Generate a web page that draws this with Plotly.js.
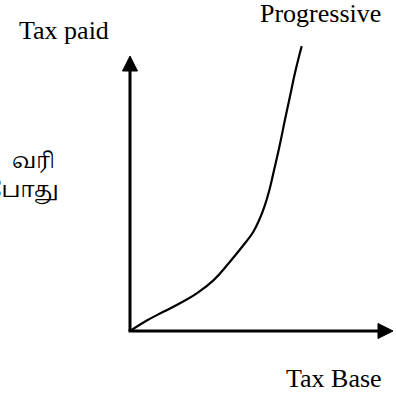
<!DOCTYPE html>
<html>
<head>
<meta charset="utf-8">
<script src="https://cdn.plot.ly/plotly-3.0.1.min.js"></script>
<style>html,body{margin:0;padding:0;background:#fff;}#chart{width:396px;height:394px;}</style>
</head>
<body>
<div id="chart"></div>
<script>
// Data (arbitrary units: tax base 0-10, tax paid 0-10)
var taxBase = [0, 0.64, 1.27, 1.90, 2.54, 3.17, 3.80, 4.37, 4.69, 4.94, 5.13, 5.30, 5.45, 5.68, 5.89, 6.08, 6.27, 6.44, 6.53];
var taxPaid = [0, 0.38, 0.70, 1.01, 1.37, 1.84, 2.52, 3.19, 3.61, 4.10, 4.58, 5.13, 5.74, 6.70, 7.67, 8.52, 9.37, 10.04, 10.36];
var xLabel = "Tax Base";
var yLabel = "Tax paid";
var curveLabel = "Progressive";
var tamilLine1 = "வரி";
var tamilLine2 = "போது";
var xAxisEnd = 10, yAxisEnd = 10;

var W = 396, H = 394;
var originPx = 130, originPy = 331;   // where the axes meet, in pixels
var pxPerX = 26.3, pxPerY = 27.5;
var xRange = [-originPx / pxPerX, (W - originPx) / pxPerX];
var yRange = [-(H - originPy) / pxPerY, originPy / pxPerY];
var ux = 1 / pxPerX, uy = 1 / pxPerY;
var headLen = 15, headHalf = 7.5;

function px2paperX(px){ return px / W; }
function py2paperY(py){ return 1 - py / H; }

var shapes = [
  {type:'line', xref:'x', yref:'y', x0:0, y0:0, x1:0, y1:yAxisEnd - headLen*uy, line:{color:'#000', width:3}},
  {type:'path', xref:'x', yref:'y', path:'M ' + (-headHalf*ux) + ',' + (yAxisEnd - headLen*uy) + ' L ' + (headHalf*ux) + ',' + (yAxisEnd - headLen*uy) + ' L 0,' + yAxisEnd + ' Z', fillcolor:'#000', line:{color:'#000', width:1}},
  {type:'line', xref:'x', yref:'y', x0:-1.5*ux, y0:0, x1:xAxisEnd - headLen*ux, y1:0, line:{color:'#000', width:3}},
  {type:'path', xref:'x', yref:'y', path:'M ' + (xAxisEnd - headLen*ux) + ',' + (-headHalf*uy) + ' L ' + (xAxisEnd - headLen*ux) + ',' + (headHalf*uy) + ' L ' + xAxisEnd + ',0 Z', fillcolor:'#000', line:{color:'#000', width:1}}
];

var serif = {family:'"Liberation Serif", "Times New Roman", serif', size:26, color:'#000'};
var tamilFont = {family:'"Noto Serif Tamil", "Noto Sans Tamil", "Lohit Tamil", "Latha", sans-serif', size:21, color:'#000'};

var annotations = [
  {xref:'paper', yref:'paper', x:px2paperX(64), y:py2paperY(31), text:yLabel, showarrow:false, font:serif, xanchor:'center', yanchor:'middle'},
  {xref:'paper', yref:'paper', x:px2paperX(320), y:py2paperY(14), text:curveLabel, showarrow:false, font:serif, xanchor:'center', yanchor:'middle'},
  {xref:'paper', yref:'paper', x:px2paperX(334), y:py2paperY(378), text:xLabel, showarrow:false, font:serif, xanchor:'center', yanchor:'middle'},
  {xref:'paper', yref:'paper', x:px2paperX(33), y:py2paperY(162), text:tamilLine1, showarrow:false, font:tamilFont, xanchor:'center', yanchor:'middle', borderpad:0},
  {xref:'paper', yref:'paper', x:px2paperX(60), y:py2paperY(191), text:tamilLine2, showarrow:false, font:tamilFont, xanchor:'right', yanchor:'middle', borderpad:0}
];

var trace = {x:taxBase, y:taxPaid, type:'scatter', mode:'lines', line:{color:'#000', width:2.2, shape:'spline', smoothing:1.3}, hoverinfo:'skip'};

var layout = {
  width:W, height:H, margin:{l:0, r:0, t:0, b:0, pad:0}, showlegend:false,
  paper_bgcolor:'#fff', plot_bgcolor:'#fff',
  xaxis:{range:xRange, visible:false, fixedrange:true},
  yaxis:{range:yRange, visible:false, fixedrange:true},
  shapes:shapes, annotations:annotations
};

Plotly.newPlot('chart', [trace], layout, {staticPlot:true, displayModeBar:false});
</script>
</body>
</html>
